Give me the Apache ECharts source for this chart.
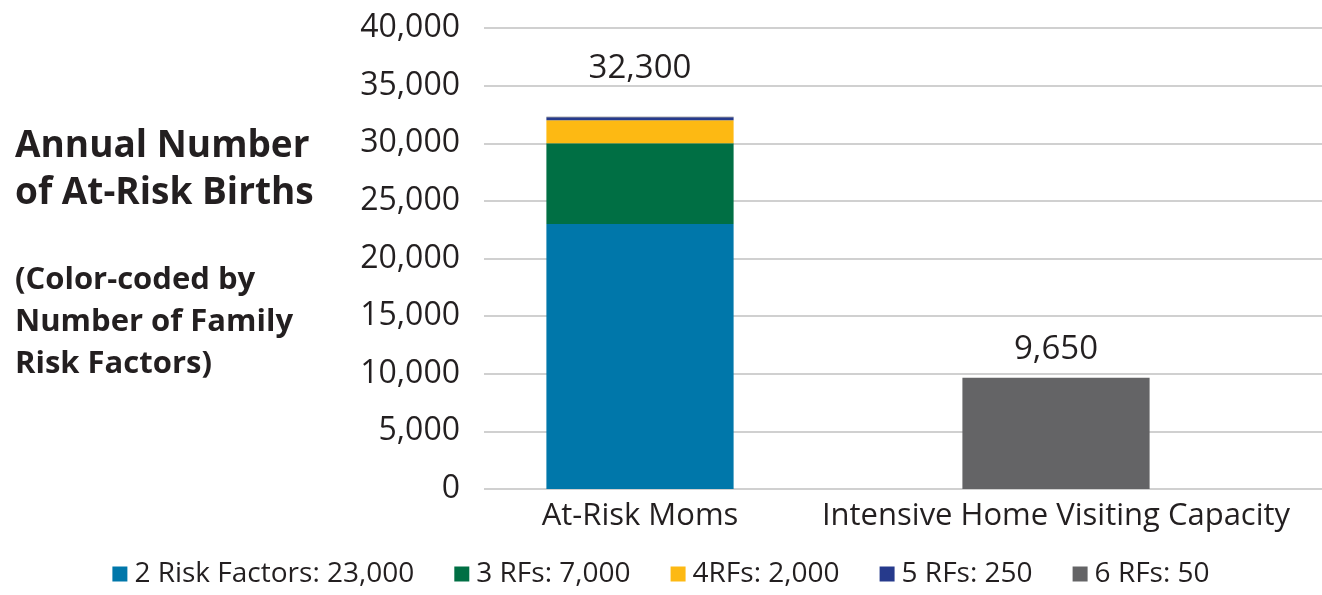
<!DOCTYPE html>
<html>
<head>
<meta charset="utf-8">
<script src="https://cdn.jsdelivr.net/npm/echarts@6/dist/echarts.min.js"></script>
<style>
  html, body { margin: 0; padding: 0; background: #fff; }
  #chart { width: 1322px; height: 595px; }
</style>
</head>
<body>
<div id="chart"></div>
<script>
const categories = ['At-Risk Moms', 'Intensive Home Visiting Capacity']
const seriesNames = ['2 Risk Factors: 23,000', '3 RFs: 7,000', '4RFs: 2,000', '5 RFs: 250', '6 RFs: 50']
const rf2 = [23000, '-']
const rf3 = [7000, '-']
const rf4 = [2000, '-']
const rf5 = [250, '-']
const rf6 = [50, 9650]
const totals = [32300, 9650]
const colors = ['#0077aa', '#006f44', '#fdb913', '#263a8c', '#646466']

const textColor = '#231f20'
const font = 'Open Sans'
const chart = echarts.init(document.getElementById('chart'))

const values = [rf2, rf3, rf4, rf5, rf6]
const series = values.map((d, i) => {
  const s = {
    name: seriesNames[i],
    type: 'bar',
    stack: 'births',
    xAxisIndex: 1,
    yAxisIndex: 1,
    barWidth: '45%',
    itemStyle: { color: colors[i] },
    data: d
  }
  // total on top of each column
  if (i === values.length - 1) {
    s.label = {
      show: true,
      position: 'top',
      fontFamily: font,
      fontSize: 33,
      color: textColor,
      formatter: p => totals[p.dataIndex].toLocaleString('en-US')
    }
    s.data = d.map((v, j) => ({ value: v, label: { distance: j === 0 ? 32 : 12 } }))
  }
  return s
})

chart.setOption({
  animation: false,
  color: colors,
  textStyle: { fontFamily: font },
  title: [
    {
      text: 'Annual Number\nof At-Risk Births',
      left: 10,
      top: 118,
      textStyle: { fontFamily: font, fontSize: 37, fontWeight: 'bold', color: textColor, lineHeight: 47 }
    },
    {
      text: '(Color-coded by\nNumber of Family\nRisk Factors)',
      left: 10,
      top: 254,
      textStyle: { fontFamily: font, fontSize: 31, fontWeight: 'bold', color: textColor, lineHeight: 42 }
    }
  ],
  legend: {
    bottom: 2,
    left: 'center',
    itemWidth: 15,
    itemHeight: 15,
    itemGap: 40,
    icon: 'rect',
    textStyle: { fontFamily: font, fontSize: 28, color: textColor, padding: [0, 0, 0, 2] },
    data: seriesNames
  },
  grid: [
    { left: 484, right: 0, top: 28, bottom: 106 },
    { left: 432, right: 58, top: 28, bottom: 106 }
  ],
  xAxis: [
    { type: 'category', gridIndex: 0, data: categories, show: false },
    {
      type: 'category',
      gridIndex: 1,
      data: categories,
      axisLine: { show: false },
      axisTick: { show: false },
      axisLabel: { interval: 0, fontFamily: font, fontSize: 31, color: textColor, margin: 12 }
    }
  ],
  yAxis: [
    {
      type: 'value',
      gridIndex: 0,
      min: 0,
      max: 40000,
      interval: 5000,
      axisLine: { show: false },
      axisTick: { show: false },
      axisLabel: {
        fontFamily: font,
        fontSize: 32,
        color: textColor,
        margin: 24,
        formatter: v => v.toLocaleString('en-US')
      },
      splitLine: { lineStyle: { color: '#d0d0d0', width: 2 } }
    },
    { type: 'value', gridIndex: 1, min: 0, max: 40000, interval: 5000, show: false }
  ],
  series: series
})
</script>
</body>
</html>
